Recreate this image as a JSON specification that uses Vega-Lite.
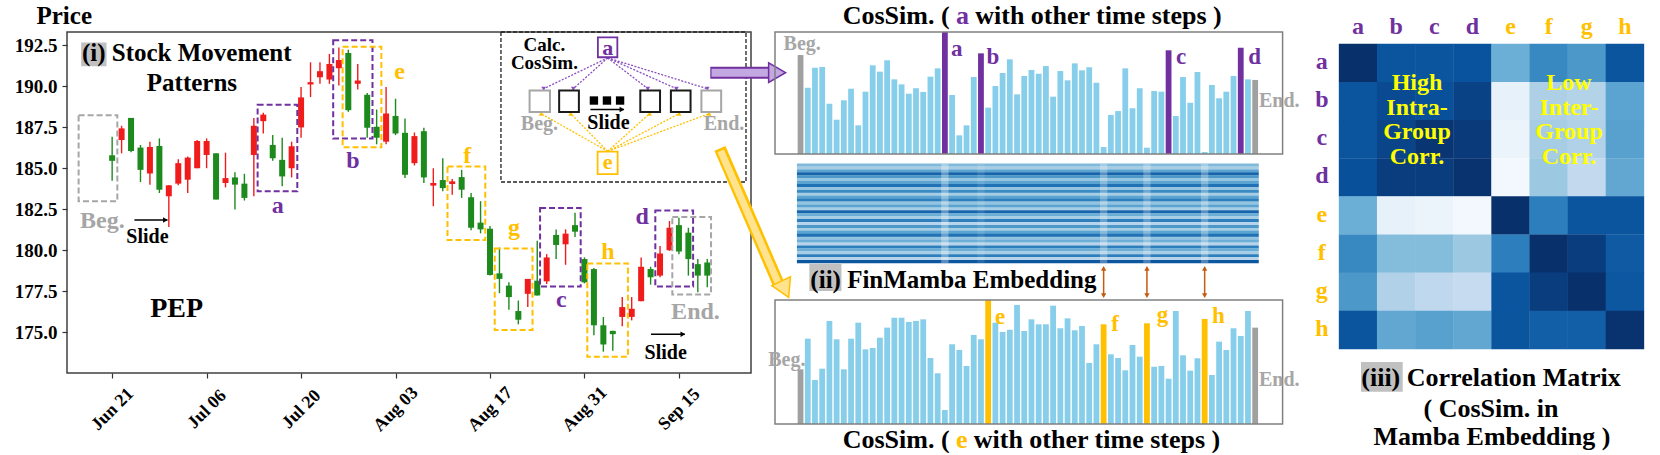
{
"$schema":"https://vega.github.io/schema/vega-lite/v6.json",
"background":"white",
"padding":{"left":13,"top":2,"right":0,"bottom":0},
"config":{"font":"Liberation Serif","view":{"stroke":null}},
"spacing":19,
"bounds":"flush",
"datasets":{
"candles":[
{"t":0,"o":185.78,"h":186.91,"l":184.23,"c":185.44},
{"t":1,"o":186.71,"h":187.58,"l":185.90,"c":187.42},
{"t":2,"o":188.06,"h":188.06,"l":185.96,"c":186.04},
{"t":3,"o":186.25,"h":186.41,"l":184.15,"c":184.89},
{"t":4,"o":184.67,"h":186.61,"l":183.99,"c":186.29},
{"t":5,"o":186.35,"h":186.81,"l":183.48,"c":183.68},
{"t":6,"o":183.28,"h":183.95,"l":181.40,"c":183.95},
{"t":7,"o":184.05,"h":185.54,"l":183.95,"c":185.30},
{"t":8,"o":184.29,"h":185.70,"l":183.48,"c":185.64},
{"t":9,"o":184.99,"h":186.71,"l":184.99,"c":186.65},
{"t":10,"o":185.80,"h":186.81,"l":184.99,"c":186.65},
{"t":11,"o":185.90,"h":185.90,"l":183.08,"c":183.08},
{"t":12,"o":184.09,"h":185.94,"l":183.82,"c":184.39},
{"t":13,"o":184.43,"h":184.75,"l":182.47,"c":183.99},
{"t":14,"o":184.05,"h":184.65,"l":183.02,"c":183.18},
{"t":15,"o":185.80,"h":188.06,"l":183.28,"c":187.58},
{"t":16,"o":187.86,"h":188.37,"l":187.11,"c":188.26},
{"t":17,"o":186.41,"h":187.01,"l":185.44,"c":185.60},
{"t":18,"o":185.50,"h":186.85,"l":183.89,"c":184.49},
{"t":19,"o":184.99,"h":186.61,"l":184.43,"c":186.33},
{"t":20,"o":187.48,"h":189.94,"l":186.85,"c":189.31},
{"t":21,"o":190.10,"h":191.45,"l":189.33,"c":190.24},
{"t":22,"o":190.54,"h":191.45,"l":190.14,"c":190.91},
{"t":23,"o":190.40,"h":191.96,"l":190.14,"c":191.35},
{"t":24,"o":191.09,"h":192.36,"l":190.04,"c":191.59},
{"t":25,"o":192.02,"h":192.22,"l":188.43,"c":188.53},
{"t":26,"o":190.14,"h":191.35,"l":189.80,"c":190.34},
{"t":27,"o":189.47,"h":189.58,"l":186.85,"c":187.46},
{"t":28,"o":187.52,"h":188.57,"l":186.45,"c":186.85},
{"t":29,"o":186.61,"h":189.94,"l":186.45,"c":188.33},
{"t":30,"o":188.18,"h":189.23,"l":187.01,"c":187.11},
{"t":31,"o":187.15,"h":188.02,"l":184.39,"c":184.59},
{"t":32,"o":185.30,"h":187.17,"l":185.16,"c":186.95},
{"t":33,"o":187.25,"h":187.46,"l":184.09,"c":184.43},
{"t":34,"o":183.93,"h":184.99,"l":182.67,"c":184.09},
{"t":35,"o":184.27,"h":185.60,"l":183.58,"c":183.78},
{"t":36,"o":184.03,"h":184.33,"l":183.38,"c":184.19},
{"t":37,"o":184.45,"h":184.89,"l":183.18,"c":183.68},
{"t":38,"o":183.22,"h":183.48,"l":181.20,"c":181.36},
{"t":39,"o":181.67,"h":182.98,"l":181.02,"c":181.26},
{"t":40,"o":181.30,"h":181.46,"l":178.44,"c":178.48},
{"t":41,"o":178.58,"h":180.15,"l":177.37,"c":178.24},
{"t":42,"o":177.83,"h":178.03,"l":176.36,"c":177.13},
{"t":43,"o":176.28,"h":176.92,"l":175.47,"c":175.75},
{"t":44,"o":177.33,"h":178.24,"l":176.52,"c":178.24},
{"t":45,"o":178.13,"h":180.56,"l":177.23,"c":177.23},
{"t":46,"o":178.09,"h":179.75,"l":177.93,"c":179.55},
{"t":47,"o":180.92,"h":181.26,"l":179.45,"c":180.31},
{"t":48,"o":180.35,"h":181.26,"l":179.10,"c":181.00},
{"t":49,"o":181.52,"h":182.27,"l":180.80,"c":181.12},
{"t":50,"o":179.45,"h":179.55,"l":177.97,"c":178.03},
{"t":51,"o":178.84,"h":178.90,"l":174.81,"c":175.41},
{"t":52,"o":175.41,"h":175.92,"l":173.80,"c":174.24},
{"t":53,"o":175.07,"h":175.07,"l":173.86,"c":174.87},
{"t":54,"o":175.92,"h":177.13,"l":175.35,"c":176.52},
{"t":55,"o":175.92,"h":177.13,"l":175.71,"c":176.42},
{"t":56,"o":176.88,"h":179.55,"l":176.88,"c":178.98},
{"t":57,"o":178.84,"h":178.98,"l":177.89,"c":178.34},
{"t":58,"o":178.44,"h":180.25,"l":178.34,"c":179.79},
{"t":59,"o":179.99,"h":181.77,"l":179.95,"c":181.36},
{"t":60,"o":181.52,"h":181.97,"l":179.75,"c":179.91},
{"t":61,"o":181.06,"h":181.36,"l":178.44,"c":179.45},
{"t":62,"o":179.14,"h":179.45,"l":177.43,"c":178.44},
{"t":63,"o":179.24,"h":179.45,"l":177.73,"c":178.44}
],
"steps":[
{"t":0,"a":0.811,"e":0.441},{"t":1,"a":0.543,"e":0.688},{"t":2,"a":0.707,"e":0.355},{"t":3,"a":0.713,"e":0.446},
{"t":4,"a":0.412,"e":0.831},{"t":5,"a":0.281,"e":0.683},{"t":6,"a":0.440,"e":0.441},{"t":7,"a":0.535,"e":0.688},
{"t":8,"a":0.235,"e":0.817},{"t":9,"a":0.511,"e":0.602},{"t":10,"a":0.727,"e":0.613},{"t":11,"a":0.675,"e":0.696},
{"t":12,"a":0.768,"e":0.777},{"t":13,"a":0.612,"e":0.857},{"t":14,"a":0.571,"e":0.857},{"t":15,"a":0.494,"e":0.823},
{"t":16,"a":0.539,"e":0.831},{"t":17,"a":0.508,"e":0.844},{"t":18,"a":0.634,"e":0.532},{"t":19,"a":0.702,"e":0.409},
{"t":20,"a":1.0,"e":0.113},{"t":21,"a":0.484,"e":0.643},{"t":22,"a":0.153,"e":0.597},{"t":23,"a":0.235,"e":0.468},
{"t":24,"a":0.631,"e":0.718},{"t":25,"a":0.825,"e":0.683},{"t":26,"a":0.380,"e":1.0},{"t":27,"a":0.557,"e":0.817},
{"t":28,"a":0.664,"e":0.742},{"t":29,"a":0.776,"e":0.760},{"t":30,"a":0.489,"e":0.960},{"t":31,"a":0.639,"e":0.750},
{"t":32,"a":0.689,"e":0.844},{"t":33,"a":0.658,"e":0.804},{"t":34,"a":0.721,"e":0.804},{"t":35,"a":0.470,"e":0.954},
{"t":36,"a":0.680,"e":0.772},{"t":37,"a":0.604,"e":0.852},{"t":38,"a":0.743,"e":0.756},{"t":39,"a":0.686,"e":0.790},
{"t":40,"a":0.711,"e":0.492},{"t":41,"a":0.584,"e":0.643},{"t":42,"a":0.057,"e":0.804},{"t":43,"a":0.320,"e":0.562},
{"t":44,"a":0.352,"e":0.532},{"t":45,"a":0.702,"e":0.433},{"t":46,"a":0.375,"e":0.637},{"t":47,"a":0.539,"e":0.543},
{"t":48,"a":0.052,"e":0.812},{"t":49,"a":0.516,"e":0.462},{"t":50,"a":0.511,"e":0.468},{"t":51,"a":0.850,"e":0.365},
{"t":52,"a":0.311,"e":0.911},{"t":53,"a":0.631,"e":0.554},{"t":54,"a":0.420,"e":0.430},{"t":55,"a":0.672,"e":0.530},
{"t":56,"a":0.016,"e":0.847},{"t":57,"a":0.566,"e":0.395},{"t":58,"a":0.457,"e":0.664},{"t":59,"a":0.511,"e":0.597},
{"t":60,"a":0.639,"e":0.772},{"t":61,"a":0.871,"e":0.710},{"t":62,"a":0.612,"e":0.911},{"t":63,"a":0.607,"e":0.777}
],
"emb":[
{"r":0,"v":0.45},{"r":1,"v":0.35},{"r":2,"v":0.55},{"r":3,"v":0.8},{"r":4,"v":0.6},{"r":5,"v":0.4},{"r":6,"v":0.55},
{"r":7,"v":0.75},{"r":8,"v":0.4},{"r":9,"v":0.65},{"r":10,"v":0.35},{"r":11,"v":0.55},{"r":12,"v":0.7},{"r":13,"v":0.4},
{"r":14,"v":0.55},{"r":15,"v":0.35},{"r":16,"v":0.8},{"r":17,"v":0.5},{"r":18,"v":0.35},{"r":19,"v":0.7},{"r":20,"v":0.3},
{"r":21,"v":0.6},{"r":22,"v":0.35},{"r":23,"v":0.55},{"r":24,"v":0.75},{"r":25,"v":0.4},{"r":26,"v":0.5},{"r":27,"v":0.3},
{"r":28,"v":0.7},{"r":29,"v":0.5},{"r":30,"v":0.35},{"r":31,"v":0.7},{"r":32,"v":0.3},{"r":33,"v":0.85}
],
"embcols":[
{"t":20,"w":0.32},{"t":25,"w":0.1},{"t":42,"w":0.28},{"t":48,"w":0.25},{"t":56,"w":0.28}
],
"corr":[
{"r":0,"c":0,"v":1.0},{"r":0,"c":1,"v":0.86},{"r":0,"c":2,"v":0.86},{"r":0,"c":3,"v":0.87},{"r":0,"c":4,"v":0.5},{"r":0,"c":5,"v":0.66},{"r":0,"c":6,"v":0.6},{"r":0,"c":7,"v":0.86},
{"r":1,"c":0,"v":0.86},{"r":1,"c":1,"v":0.9},{"r":1,"c":2,"v":0.88},{"r":1,"c":3,"v":0.93},{"r":1,"c":4,"v":0.08},{"r":1,"c":5,"v":0.33},{"r":1,"c":6,"v":0.31},{"r":1,"c":7,"v":0.55},
{"r":2,"c":0,"v":0.86},{"r":2,"c":1,"v":0.92},{"r":2,"c":2,"v":0.98},{"r":2,"c":3,"v":0.96},{"r":2,"c":4,"v":0.06},{"r":2,"c":5,"v":0.35},{"r":2,"c":6,"v":0.32},{"r":2,"c":7,"v":0.56},
{"r":3,"c":0,"v":0.88},{"r":3,"c":1,"v":0.95},{"r":3,"c":2,"v":0.95},{"r":3,"c":3,"v":0.99},{"r":3,"c":4,"v":0.02},{"r":3,"c":5,"v":0.38},{"r":3,"c":6,"v":0.26},{"r":3,"c":7,"v":0.53},
{"r":4,"c":0,"v":0.5},{"r":4,"c":1,"v":0.08},{"r":4,"c":2,"v":0.06},{"r":4,"c":3,"v":0.02},{"r":4,"c":4,"v":1.0},{"r":4,"c":5,"v":0.7},{"r":4,"c":6,"v":0.86},{"r":4,"c":7,"v":0.86},
{"r":5,"c":0,"v":0.66},{"r":5,"c":1,"v":0.44},{"r":5,"c":2,"v":0.44},{"r":5,"c":3,"v":0.38},{"r":5,"c":4,"v":0.7},{"r":5,"c":5,"v":1.0},{"r":5,"c":6,"v":0.95},{"r":5,"c":7,"v":0.84},
{"r":6,"c":0,"v":0.6},{"r":6,"c":1,"v":0.32},{"r":6,"c":2,"v":0.27},{"r":6,"c":3,"v":0.25},{"r":6,"c":4,"v":0.86},{"r":6,"c":5,"v":0.95},{"r":6,"c":6,"v":1.0},{"r":6,"c":7,"v":0.85},
{"r":7,"c":0,"v":0.86},{"r":7,"c":1,"v":0.53},{"r":7,"c":2,"v":0.56},{"r":7,"c":3,"v":0.53},{"r":7,"c":4,"v":0.86},{"r":7,"c":5,"v":0.82},{"r":7,"c":6,"v":0.82},{"r":7,"c":7,"v":0.99}
]
},
"hconcat":[
{
"width":684,"height":341,
"view":{"stroke":"#404040","strokeWidth":1.5},
"layer":[
{"data":{"values":[{}]},"mark":{"type":"rect","fillOpacity":0,"stroke":"#222222","strokeWidth":1.3,"strokeDash":[4,2]},
 "encoding":{"x":{"datum":41.16},"x2":{"datum":67.1},"y":{"datum":184.15},"y2":{"datum":193.3}}},
{"data":{"name":"candles"},"mark":{"type":"rule","strokeWidth":1.4},
 "encoding":{
  "x":{"field":"t","type":"quantitative","scale":{"domain":[-4.25,67.1],"nice":false,"zero":false},
   "axis":{"values":[0,10,20,30,40,50,60],"labelExpr":"['Jun 21','Jul 06','Jul 20','Aug 03','Aug 17','Aug 31','Sep 15'][round(datum.value/10)]","labelAngle":-45,"labelAlign":"center","labelBaseline":"middle","labelPadding":31,"labelFontSize":18,"labelFontWeight":"bold","labelColor":"#000000","labelOverlap":false,"labelFlush":false,"tickSize":5,"tickColor":"#333333","tickWidth":1.2,"domain":false,"grid":false,"title":null}},
  "y":{"field":"l","type":"quantitative","scale":{"domain":[172.5,193.3],"nice":false,"zero":false},
   "axis":{"values":[175,177.5,180,182.5,185,187.5,190,192.5],"format":".1f","labelFontSize":19,"labelFontWeight":"bold","labelColor":"#000000","labelPadding":5,"labelFlush":false,"tickSize":5,"tickColor":"#333333","tickWidth":1.2,"domain":false,"grid":false,"title":"Price","titleAngle":0,"titleAlign":"left","titleBaseline":"alphabetic","titleX":-31,"titleY":-9,"titleFontSize":25,"titleFontWeight":"bold","titleColor":"#000000"}},
  "y2":{"field":"h"},
  "color":{"condition":{"test":"datum.c > datum.o","value":"#f01c1c"},"value":"#1d8a1d"}}},
{"data":{"name":"candles"},"mark":{"type":"bar","width":6},
 "encoding":{"x":{"field":"t","type":"quantitative"},"y":{"field":"o","type":"quantitative"},"y2":{"field":"c"},
  "color":{"condition":{"test":"datum.c > datum.o","value":"#f01c1c"},"value":"#1d8a1d"}}},
{"data":{"values":[
  {"n":"Beg.","g":"W","t0":-3.55,"t1":0.55,"p0":182.98,"p1":188.22},
  {"n":"a","g":"A","t0":15.4,"t1":19.6,"p0":183.58,"p1":188.87},
  {"n":"b","g":"A","t0":23.4,"t1":27.56,"p0":186.81,"p1":192.8},
  {"n":"e","g":"E","t0":24.4,"t1":28.5,"p0":186.27,"p1":192.4},
  {"n":"f","g":"E","t0":35.5,"t1":39.5,"p0":180.62,"p1":185.1},
  {"n":"g","g":"E","t0":40.5,"t1":44.5,"p0":175.13,"p1":180.09},
  {"n":"c","g":"A","t0":45.3,"t1":49.6,"p0":177.77,"p1":182.57},
  {"n":"h","g":"E","t0":50.3,"t1":54.6,"p0":173.49,"p1":179.18},
  {"n":"d","g":"A","t0":57.5,"t1":61.5,"p0":177.77,"p1":182.41},
  {"n":"End.","g":"W","t0":59.3,"t1":63.4,"p0":177.29,"p1":182.01}]},
 "mark":{"type":"rect","fillOpacity":0,"strokeWidth":2,"strokeDash":[6,3]},
 "encoding":{"x":{"field":"t0","type":"quantitative"},"x2":{"field":"t1"},"y":{"field":"p0","type":"quantitative"},"y2":{"field":"p1"},
  "stroke":{"condition":[{"test":"datum.g=='A'","value":"#7030a0"},{"test":"datum.g=='E'","value":"#ffc000"}],"value":"#a6a6a6"}}},
{"data":{"values":[
  {"t":17.53,"p":182.27,"s":"a","g":"A"},{"t":25.48,"p":184.99,"s":"b","g":"A"},{"t":30.44,"p":190.44,"s":"e","g":"E"},
  {"t":37.58,"p":185.3,"s":"f","g":"E"},{"t":42.54,"p":180.9,"s":"g","g":"E"},{"t":47.55,"p":176.52,"s":"c","g":"A"},
  {"t":52.48,"p":179.44,"s":"h","g":"E"},{"t":56.1,"p":181.6,"s":"d","g":"A"},
  {"t":-1.03,"p":181.36,"s":"Beg.","g":"W"},{"t":61.75,"p":175.81,"s":"End.","g":"W"}]},
 "mark":{"type":"text","fontSize":24,"fontWeight":"bold","baseline":"alphabetic","align":"center"},
 "encoding":{"x":{"field":"t","type":"quantitative"},"y":{"field":"p","type":"quantitative"},"text":{"field":"s"},
  "color":{"condition":[{"test":"datum.g=='A'","value":"#7030a0"},{"test":"datum.g=='E'","value":"#ffc000"}],"value":"#a6a6a6"}}},
{"data":{"values":[{"t":3.74,"p":180.45,"s":"Slide"},{"t":58.6,"p":173.33,"s":"Slide"},{"t":52.54,"p":187.37,"s":"Slide"}]},
 "mark":{"type":"text","fontSize":20,"fontWeight":"bold","baseline":"alphabetic","align":"center","color":"#000000"},
 "encoding":{"x":{"field":"t","type":"quantitative"},"y":{"field":"p","type":"quantitative"},"text":{"field":"s"}}},
{"data":{"values":[{"t":45.76,"p":192.17,"s":"Calc."},{"t":45.76,"p":191.03,"s":"CosSim."}]},
 "mark":{"type":"text","fontSize":19,"fontWeight":"bold","baseline":"alphabetic","align":"center","color":"#000000"},
 "encoding":{"x":{"field":"t","type":"quantitative"},"y":{"field":"p","type":"quantitative"},"text":{"field":"s"}}},
{"data":{"values":[{"t":45.23,"p":187.31,"s":"Beg."},{"t":64.77,"p":187.31,"s":"End."}]},
 "mark":{"type":"text","fontSize":20,"fontWeight":"bold","baseline":"alphabetic","align":"center","color":"#a6a6a6"},
 "encoding":{"x":{"field":"t","type":"quantitative"},"y":{"field":"p","type":"quantitative"},"text":{"field":"s"}}},
{"data":{"values":[{"t":6.82,"p":175.91,"s":"PEP"}]},
 "mark":{"type":"text","fontSize":28,"fontWeight":"bold","baseline":"alphabetic","align":"center","color":"#000000"},
 "encoding":{"x":{"field":"t","type":"quantitative"},"y":{"field":"p","type":"quantitative"},"text":{"field":"s"}}},
{"data":{"values":[{}]},"mark":{"type":"rect","color":"#c0c0c0"},
 "encoding":{"x":{"datum":-3.28},"x2":{"datum":-0.595},"y":{"datum":191.21},"y2":{"datum":192.66}}},
{"data":{"values":[{"t":-3.2,"p":191.51,"s":"(i) Stock Movement"}]},
 "mark":{"type":"text","fontSize":25,"fontWeight":"bold","baseline":"alphabetic","align":"left","color":"#000000"},
 "encoding":{"x":{"field":"t","type":"quantitative"},"y":{"field":"p","type":"quantitative"},"text":{"field":"s"}}},
{"data":{"values":[{"t":8.45,"p":189.69,"s":"Patterns"}]},
 "mark":{"type":"text","fontSize":25,"fontWeight":"bold","baseline":"alphabetic","align":"center","color":"#000000"},
 "encoding":{"x":{"field":"t","type":"quantitative"},"y":{"field":"p","type":"quantitative"},"text":{"field":"s"}}},
{"data":{"values":[{"t0":2.36,"t1":5.85,"p":181.83},{"t0":57.04,"t1":60.63,"p":174.87},{"t0":50.63,"t1":54.18,"p":188.57}]},
 "mark":{"type":"rule","strokeWidth":1.5,"color":"#000000"},
 "encoding":{"x":{"field":"t0","type":"quantitative"},"x2":{"field":"t1"},"y":{"field":"p","type":"quantitative"}}},
{"data":{"values":[{"t1":5.85,"p":181.83},{"t1":60.63,"p":174.87},{"t1":54.18,"p":188.57}]},
 "mark":{"type":"point","shape":"triangle-right","filled":true,"size":30,"color":"#000000","opacity":1,"xOffset":-2},
 "encoding":{"x":{"field":"t1","type":"quantitative"},"y":{"field":"p","type":"quantitative"}}},
{"data":{"values":[
  {"g":"A","t0":52.46,"p0":191.72,"t1":45.68,"p1":189.84},{"g":"A","t0":52.46,"p0":191.72,"t1":48.82,"p1":189.84},
  {"g":"A","t0":52.46,"p0":191.72,"t1":56.71,"p1":189.84},{"g":"A","t0":52.46,"p0":191.72,"t1":59.74,"p1":189.84},
  {"g":"A","t0":52.46,"p0":191.72,"t1":63.0,"p1":189.84},
  {"g":"E","t0":52.46,"p0":186.02,"t1":45.41,"p1":188.32},{"g":"E","t0":52.46,"p0":186.02,"t1":48.54,"p1":188.32},
  {"g":"E","t0":52.46,"p0":186.02,"t1":56.89,"p1":188.32},{"g":"E","t0":52.46,"p0":186.02,"t1":60.02,"p1":188.32},
  {"g":"E","t0":52.46,"p0":186.02,"t1":63.2,"p1":188.32}]},
 "layer":[
  {"mark":{"type":"rule","strokeWidth":1.3,"strokeDash":[2,1.5]},
   "encoding":{"x":{"field":"t0","type":"quantitative"},"y":{"field":"p0","type":"quantitative"},"x2":{"field":"t1"},"y2":{"field":"p1"},
    "color":{"condition":{"test":"datum.g=='A'","value":"#8a4fc0"},"value":"#ffc000"}}},
  {"mark":{"type":"point","filled":true,"size":22,"opacity":1},
   "encoding":{"x":{"field":"t1","type":"quantitative"},"y":{"field":"p1","type":"quantitative"},
    "shape":{"condition":{"test":"datum.g=='A'","value":"triangle-down"},"value":"triangle-up"},
    "color":{"condition":{"test":"datum.g=='A'","value":"#8a4fc0"},"value":"#ffc000"}}}
 ]},
{"data":{"values":[{"t0":44.19,"t1":46.35,"g":"W"},{"t0":47.32,"t1":49.41,"g":"K"},{"t0":55.91,"t1":58.0,"g":"K"},{"t0":59.15,"t1":61.23,"g":"K"},{"t0":62.38,"t1":64.47,"g":"W"}]},
 "mark":{"type":"rect","fill":"white","strokeWidth":2},
 "encoding":{"x":{"field":"t0","type":"quantitative"},"x2":{"field":"t1"},"y":{"datum":188.42},"y2":{"datum":189.73},
  "stroke":{"condition":{"test":"datum.g=='W'","value":"#a6a6a6"},"value":"#1a1a1a"}}},
{"data":{"values":[{"t":51.0},{"t":52.38},{"t":53.77}]},
 "mark":{"type":"square","size":70,"color":"#000000","opacity":1},
 "encoding":{"x":{"field":"t","type":"quantitative"},"y":{"datum":189.12}}},
{"data":{"values":[{"t0":51.42,"t1":53.48,"p0":191.76,"p1":192.97,"g":"A","s":"a","pt":191.89},{"t0":51.39,"t1":53.51,"p0":184.63,"p1":186.0,"g":"E","s":"e","pt":184.93}]},
 "layer":[
  {"mark":{"type":"rect","fill":"white","strokeWidth":1.8},
   "encoding":{"x":{"field":"t0","type":"quantitative"},"x2":{"field":"t1"},"y":{"field":"p0","type":"quantitative"},"y2":{"field":"p1"},
    "stroke":{"condition":{"test":"datum.g=='A'","value":"#7030a0"},"value":"#ffc000"}}},
  {"mark":{"type":"text","fontSize":22,"fontWeight":"bold","baseline":"alphabetic","align":"center"},
   "encoding":{"x":{"datum":52.46},"y":{"field":"pt","type":"quantitative"},"text":{"field":"s"},
    "color":{"condition":{"test":"datum.g=='A'","value":"#7030a0"},"value":"#ffc000"}}}
 ]},
{"data":{"values":[{}]},
 "layer":[
  {"mark":{"type":"rule","strokeWidth":12,"color":"#7030a0"},"encoding":{"x":{"datum":63.32},"x2":{"datum":69.6},"y":{"datum":190.82}}},
  {"mark":{"type":"rule","strokeWidth":8,"color":"#c4a8e2"},"encoding":{"x":{"datum":63.45},"x2":{"datum":69.6},"y":{"datum":190.82}}},
  {"mark":{"type":"point","shape":"triangle-right","filled":true,"size":380,"fill":"#c4a8e2","stroke":"#7030a0","strokeWidth":1.5,"opacity":1},"encoding":{"x":{"datum":70.39},"y":{"datum":190.82}}},
  {"mark":{"type":"rule","strokeWidth":12,"color":"#ffc000"},"encoding":{"x":{"datum":64.34},"y":{"datum":186.2},"x2":{"datum":70.5},"y2":{"datum":178.0}}},
  {"mark":{"type":"rule","strokeWidth":7,"color":"#ffe38f"},"encoding":{"x":{"datum":64.42},"y":{"datum":186.05},"x2":{"datum":70.5},"y2":{"datum":178.0}}},
  {"mark":{"type":"point","shape":"triangle-down","angle":-25,"filled":true,"size":420,"fill":"#ffe38f","stroke":"#ffc000","strokeWidth":1.5,"opacity":1},"encoding":{"x":{"datum":71.22},"y":{"datum":177.61}}}
 ]}
]
},
{
"width":550,"height":392,
"resolve":{"scale":{"y":"independent"}},
"layer":[
{"layer":[
 {"data":{"name":"steps"},"mark":{"type":"bar","width":5.8},
  "encoding":{
   "x":{"field":"t","type":"quantitative","scale":{"domain":[-3.54,71.29],"nice":false,"zero":false},"axis":null},
   "y":{"field":"a","type":"quantitative","scale":{"domain":[-2.213,1],"nice":false,"zero":false},"axis":null},
   "color":{"condition":[{"test":"datum.t==0||datum.t==63","value":"#a0a0a0"},{"test":"indexof([20,25,51,61],datum.t)>=0","value":"#7030a0"}],"value":"#87ceeb"}}},
 {"data":{"values":[{}]},"mark":{"type":"rect","fillOpacity":0,"stroke":"#808080","strokeWidth":1.5},
  "encoding":{"x":{"datum":-3.54},"x2":{"datum":66.8},"y":{"datum":0},"y2":{"datum":1}}},
 {"data":{"values":[{"t":21.66,"v":0.803,"s":"a"},{"t":26.64,"v":0.735,"s":"b"},{"t":52.73,"v":0.735,"s":"c"},{"t":62.93,"v":0.735,"s":"d"}]},
  "mark":{"type":"text","fontSize":23,"fontWeight":"bold","baseline":"alphabetic","align":"center","color":"#7030a0"},
  "encoding":{"x":{"field":"t","type":"quantitative"},"y":{"field":"v","type":"quantitative"},"text":{"field":"s"}}},
 {"data":{"values":[{"t":0.23,"v":0.852,"s":"Beg."},{"t":66.34,"v":0.385,"s":"End."}]},
  "mark":{"type":"text","fontSize":20,"fontWeight":"bold","baseline":"alphabetic","align":"center","color":"#a6a6a6"},
  "encoding":{"x":{"field":"t","type":"quantitative"},"y":{"field":"v","type":"quantitative"},"text":{"field":"s"}}},
 {"data":{"values":[{"t":20.66,"v":1.068,"s":"CosSim. ("}]},
  "mark":{"type":"text","fontSize":26,"fontWeight":"bold","baseline":"alphabetic","align":"right","color":"#000000"},
  "encoding":{"x":{"field":"t","type":"quantitative"},"y":{"field":"v","type":"quantitative"},"text":{"field":"s"}}},
 {"data":{"values":[{"t":21.55,"v":1.068,"s":"a"}]},
  "mark":{"type":"text","fontSize":26,"fontWeight":"bold","baseline":"alphabetic","align":"left","color":"#7030a0"},
  "encoding":{"x":{"field":"t","type":"quantitative"},"y":{"field":"v","type":"quantitative"},"text":{"field":"s"}}},
 {"data":{"values":[{"t":24.21,"v":1.068,"s":"with other time steps )"}]},
  "mark":{"type":"text","fontSize":26,"fontWeight":"bold","baseline":"alphabetic","align":"left","color":"#000000"},
  "encoding":{"x":{"field":"t","type":"quantitative"},"y":{"field":"v","type":"quantitative"},"text":{"field":"s"}}}
]},
{"layer":[
 {"data":{"name":"emb"},"mark":{"type":"bar","orient":"horizontal","height":3.15},
  "encoding":{
   "y":{"field":"r","type":"quantitative","scale":{"domain":[-43.83,86.83],"reverse":true,"nice":false,"zero":false},"axis":null},
   "x":{"datum":-0.5},
   "x2":{"datum":63.5},
   "color":{"field":"v","type":"quantitative","scale":{"domain":[0,0.125,0.25,0.375,0.5,0.625,0.75,0.875,1],"range":["#f7fbff","#deebf7","#c6dbef","#9ecae1","#6baed6","#4292c6","#2171b5","#08519c","#08306b"]},"legend":null}}},
 {"data":{"name":"embcols"},"mark":{"type":"rule","color":"#ffffff","strokeWidth":7.35},
  "encoding":{"x":{"field":"t","type":"quantitative"},"y":{"datum":-0.5},"y2":{"datum":33.5},
   "opacity":{"field":"w","type":"quantitative","scale":{"domain":[0,1],"range":[0,1]},"legend":null}}}
]},
{"layer":[
 {"data":{"name":"steps"},"mark":{"type":"bar","width":5.8},
  "encoding":{
   "x":{"field":"t","type":"quantitative"},
   "y":{"field":"e","type":"quantitative","scale":{"domain":[0,3.161],"nice":false,"zero":false},"axis":null},
   "color":{"condition":[{"test":"datum.t==0||datum.t==63","value":"#a0a0a0"},{"test":"indexof([26,42,48,56],datum.t)>=0","value":"#ffc000"}],"value":"#87ceeb"}}},
 {"data":{"values":[{}]},"mark":{"type":"rect","fillOpacity":0,"stroke":"#808080","strokeWidth":1.5},
  "encoding":{"x":{"datum":-3.54},"x2":{"datum":66.8},"y":{"datum":0},"y2":{"datum":1}}},
 {"data":{"values":[{"t":27.67,"v":0.804,"s":"e"},{"t":43.58,"v":0.75,"s":"f"},{"t":50.17,"v":0.825,"s":"g"},{"t":57.9,"v":0.815,"s":"h"}]},
  "mark":{"type":"text","fontSize":23,"fontWeight":"bold","baseline":"alphabetic","align":"center","color":"#ffc000"},
  "encoding":{"x":{"field":"t","type":"quantitative"},"y":{"field":"v","type":"quantitative"},"text":{"field":"s"}}},
 {"data":{"values":[{"t":-1.9,"v":0.468,"s":"Beg."},{"t":66.34,"v":0.306,"s":"End."}]},
  "mark":{"type":"text","fontSize":20,"fontWeight":"bold","baseline":"alphabetic","align":"center","color":"#a6a6a6"},
  "encoding":{"x":{"field":"t","type":"quantitative"},"y":{"field":"v","type":"quantitative"},"text":{"field":"s"}}},
 {"data":{"values":[{"t":20.66,"v":-0.191,"s":"CosSim. ("}]},
  "mark":{"type":"text","fontSize":26,"fontWeight":"bold","baseline":"alphabetic","align":"right","color":"#000000"},
  "encoding":{"x":{"field":"t","type":"quantitative"},"y":{"field":"v","type":"quantitative"},"text":{"field":"s"}}},
 {"data":{"values":[{"t":21.55,"v":-0.191,"s":"e"}]},
  "mark":{"type":"text","fontSize":26,"fontWeight":"bold","baseline":"alphabetic","align":"left","color":"#ffc000"},
  "encoding":{"x":{"field":"t","type":"quantitative"},"y":{"field":"v","type":"quantitative"},"text":{"field":"s"}}},
 {"data":{"values":[{"t":24.0,"v":-0.191,"s":"with other time steps )"}]},
  "mark":{"type":"text","fontSize":26,"fontWeight":"bold","baseline":"alphabetic","align":"left","color":"#000000"},
  "encoding":{"x":{"field":"t","type":"quantitative"},"y":{"field":"v","type":"quantitative"},"text":{"field":"s"}}},
 {"data":{"values":[{}]},"mark":{"type":"rect","color":"#c0c0c0"},
  "encoding":{"x":{"datum":1.22},"x2":{"datum":5.67},"y":{"datum":1.073},"y2":{"datum":1.293}}},
 {"data":{"values":[{"t":1.36,"v":1.099,"s":"(ii) FinMamba Embedding"}]},
  "mark":{"type":"text","fontSize":25,"fontWeight":"bold","baseline":"alphabetic","align":"left","color":"#000000"},
  "encoding":{"x":{"field":"t","type":"quantitative"},"y":{"field":"v","type":"quantitative"},"text":{"field":"s"}}},
 {"data":{"values":[{"t":42},{"t":48},{"t":56}]},
  "layer":[
   {"mark":{"type":"rule","strokeWidth":1.5,"color":"#c55a11"},"encoding":{"x":{"field":"t","type":"quantitative"},"y":{"datum":1.03},"y2":{"datum":1.26}}},
   {"mark":{"type":"point","shape":"triangle-up","filled":true,"size":28,"color":"#c55a11","opacity":1},"encoding":{"x":{"field":"t","type":"quantitative"},"y":{"datum":1.255}}},
   {"mark":{"type":"point","shape":"triangle-down","filled":true,"size":28,"color":"#c55a11","opacity":1},"encoding":{"x":{"field":"t","type":"quantitative"},"y":{"datum":1.035}}}
  ]}
]}
]
},
{
"width":305,"height":392,
"layer":[
{"data":{"name":"corr"},"mark":{"type":"square","size":1480,"opacity":1},
 "encoding":{
  "x":{"field":"c","type":"quantitative","scale":{"domain":[-0.5,7.5],"nice":false,"zero":false},"axis":null},
  "y":{"field":"r","type":"quantitative","scale":{"domain":[-0.815,9.467],"nice":false,"zero":false,"reverse":true},"axis":null},
  "color":{"field":"v","type":"quantitative","scale":{"domain":[0,0.125,0.25,0.375,0.5,0.625,0.75,0.875,1],"range":["#f7fbff","#deebf7","#c6dbef","#9ecae1","#6baed6","#4292c6","#2171b5","#08519c","#08306b"]},"legend":null}}},
{"data":{"values":[{"c":0,"s":"a"},{"c":1,"s":"b"},{"c":2,"s":"c"},{"c":3,"s":"d"},{"c":4,"s":"e"},{"c":5,"s":"f"},{"c":6,"s":"g"},{"c":7,"s":"h"}]},
 "mark":{"type":"text","fontSize":24,"fontWeight":"bold","baseline":"alphabetic","align":"center"},
 "encoding":{"x":{"field":"c","type":"quantitative"},"y":{"datum":-0.754},"text":{"field":"s"},
  "color":{"condition":{"test":"datum.c<4","value":"#7030a0"},"value":"#ffc000"}}},
{"data":{"values":[{"r":0,"s":"a"},{"r":1,"s":"b"},{"r":2,"s":"c"},{"r":3,"s":"d"},{"r":4,"s":"e"},{"r":5,"s":"f"},{"r":6,"s":"g"},{"r":7,"s":"h"}]},
 "mark":{"type":"text","fontSize":24,"fontWeight":"bold","baseline":"alphabetic","align":"center","dy":6},
 "encoding":{"x":{"datum":-0.951},"y":{"field":"r","type":"quantitative"},"text":{"field":"s"},
  "color":{"condition":{"test":"datum.r<4","value":"#7030a0"},"value":"#ffc000"}}},
{"data":{"values":[
  {"c":1.546,"r":0.714,"s":"High"},{"c":1.546,"r":1.37,"s":"Intra-"},{"c":1.546,"r":1.984,"s":"Group"},{"c":1.546,"r":2.64,"s":"Corr."},
  {"c":5.533,"r":0.714,"s":"Low"},{"c":5.533,"r":1.37,"s":"Inter-"},{"c":5.533,"r":1.984,"s":"Group"},{"c":5.533,"r":2.64,"s":"Corr."}]},
 "mark":{"type":"text","fontSize":24,"fontWeight":"bold","baseline":"alphabetic","align":"center","color":"#ffff00"},
 "encoding":{"x":{"field":"c","type":"quantitative"},"y":{"field":"r","type":"quantitative"},"text":{"field":"s"}}},
{"data":{"values":[{}]},"mark":{"type":"rect","color":"#c0c0c0"},
 "encoding":{"x":{"datum":0.077},"x2":{"datum":1.171},"y":{"datum":7.84},"y2":{"datum":8.62}}},
{"data":{"values":[{"c":3.487,"r":8.47,"s":"(iii) Correlation Matrix"},{"c":3.487,"r":9.28,"s":"( CosSim. in"},{"c":3.51,"r":10.02,"s":"Mamba Embedding )"}]},
 "mark":{"type":"text","fontSize":26,"fontWeight":"bold","baseline":"alphabetic","align":"center","color":"#000000"},
 "encoding":{"x":{"field":"c","type":"quantitative"},"y":{"field":"r","type":"quantitative"},"text":{"field":"s"}}}
]
}
]
}
